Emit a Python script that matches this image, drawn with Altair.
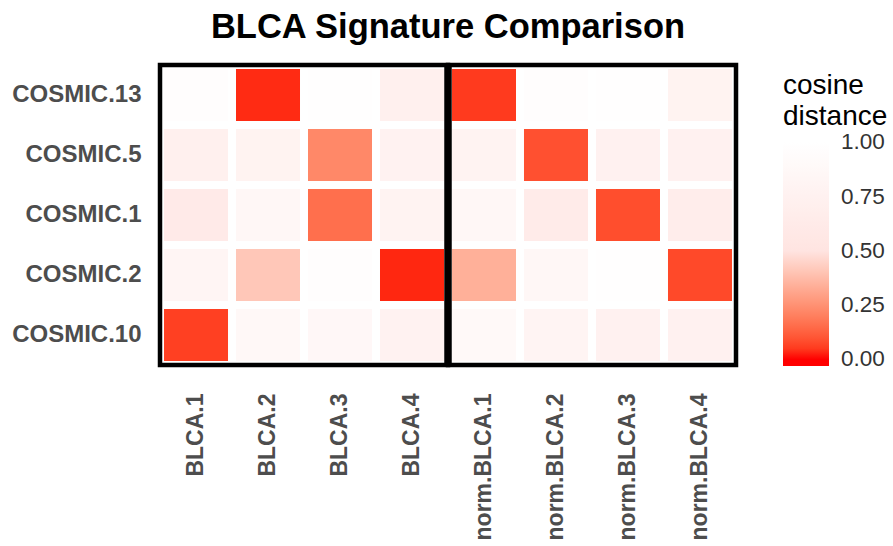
import altair as alt
import pandas as pd

# Samples (columns) and reference signatures (rows, top to bottom)
samples = ["BLCA.1", "BLCA.2", "BLCA.3", "BLCA.4",
           "norm.BLCA.1", "norm.BLCA.2", "norm.BLCA.3", "norm.BLCA.4"]
signatures = ["COSMIC.13", "COSMIC.5", "COSMIC.1", "COSMIC.2", "COSMIC.10"]

# Cosine distance of each signature to each sample, in sample order
dist_cosmic13 = [0.96, 0.03, 0.98, 0.72, 0.05, 0.96, 0.98, 0.77]
dist_cosmic5 = [0.72, 0.77, 0.225, 0.76, 0.78, 0.09, 0.75, 0.75]
dist_cosmic1 = [0.62, 0.85, 0.16, 0.78, 0.85, 0.63, 0.085, 0.66]
dist_cosmic2 = [0.82, 0.41, 0.96, 0.025, 0.34, 0.85, 0.98, 0.075]
dist_cosmic10 = [0.06, 0.87, 0.86, 0.76, 0.88, 0.80, 0.75, 0.75]

# Sample groups outlined with a box
groups = ["BLCA", "norm.BLCA"]

legend_ticks = [0, 0.25, 0.5, 0.75, 1]

rows = {
    "COSMIC.13": dist_cosmic13,
    "COSMIC.5": dist_cosmic5,
    "COSMIC.1": dist_cosmic1,
    "COSMIC.2": dist_cosmic2,
    "COSMIC.10": dist_cosmic10,
}
records = []
for sig in signatures:
    for s, v in zip(samples, rows[sig]):
        records.append({"signature": sig, "sample": s, "distance": v})
df = pd.DataFrame(records)

# Group spans in column units (1-based, edges at half steps)
box_records = []
for g in groups:
    idx = [i for i, s in enumerate(samples) if s.rsplit(".", 1)[0] == g]
    box_records.append({"group": g, "x0": min(idx) + 0.5, "x1": max(idx) + 1.5,
                        "y0": 0.5, "y1": len(signatures) + 0.5})
boxes_df = pd.DataFrame(box_records)
divider_df = pd.DataFrame({"x": [r["x1"] for r in box_records[:-1]],
                           "y0": [0.5] * (len(box_records) - 1),
                           "y1": [len(signatures) + 0.5] * (len(box_records) - 1)})

FONT = "Liberation Sans"

# Red -> misty rose -> white; the colour bar runs a little past 0 and 1
color_scale = alt.Scale(domain=[-0.03, 0, 0.5, 1, 1.01],
                        range=["#FF0000", "#FF0000", "#FFE4E1", "#FFFFFF", "#FFFFFF"],
                        interpolate="lab")

heat = alt.Chart(df).mark_rect().encode(
    x=alt.X("sample:N", sort=samples, title=None,
            scale=alt.Scale(paddingInner=0.111, paddingOuter=0.0556),
            axis=alt.Axis(labelAngle=-90, labelFontSize=23, labelFontWeight="bold",
                          labelColor="#4D4D4D", labelFont=FONT, ticks=False,
                          domain=False, labelPadding=28, labelLimit=300)),
    y=alt.Y("signature:N", sort=signatures, title=None,
            scale=alt.Scale(paddingInner=0.133, paddingOuter=0.0667),
            axis=alt.Axis(labelFontSize=24, labelFontWeight="bold",
                          labelColor="#4D4D4D", labelFont=FONT, ticks=False,
                          domain=False, labelPadding=19, labelLimit=300)),
    color=alt.Color("distance:Q", scale=color_scale,
                    legend=alt.Legend(title=["cosine", "distance"], values=legend_ticks,
                                      format=".2f", orient="right", offset=40, padding=7,
                                      gradientLength=226, gradientThickness=46,
                                      gradientStrokeWidth=0,
                                      titleFont=FONT, titleFontSize=28,
                                      titleFontWeight="normal", titleColor="#000000",
                                      titleLineHeight=31, titlePadding=9,
                                      labelFont=FONT, labelFontSize=22.5,
                                      labelColor="#333333", labelOffset=12,
                                      labelBaseline="middle", labelOverlap=False)),
)

boxes = alt.Chart(boxes_df).mark_rect(filled=False, stroke="black", strokeWidth=4.5).encode(
    x=alt.X("x0:Q", scale=alt.Scale(domain=[0.5, len(samples) + 0.5], nice=False, zero=False), axis=None),
    x2="x1:Q",
    y=alt.Y("y0:Q", scale=alt.Scale(domain=[0.5, len(signatures) + 0.5], nice=False, zero=False), axis=None),
    y2="y1:Q",
)

divider = alt.Chart(divider_df).mark_rule(color="black", strokeWidth=7.5).encode(
    x=alt.X("x:Q", scale=alt.Scale(domain=[0.5, len(samples) + 0.5], nice=False, zero=False), axis=None),
    y=alt.Y("y0:Q", scale=alt.Scale(domain=[0.5, len(signatures) + 0.5], nice=False, zero=False), axis=None),
    y2="y1:Q",
)

chart = alt.layer(heat, boxes, divider).resolve_scale(
    x="independent", y="independent", color="independent"
).properties(
    width=576, height=300,
    autosize=alt.AutoSizeParams(type="none"),
    padding={"left": 160, "top": 65, "right": 157, "bottom": 181},
    title=alt.TitleParams("BLCA Signature Comparison", font=FONT, fontSize=34.5,
                          fontWeight="bold", color="#000000", anchor="middle",
                          baseline="alphabetic", offset=25, dy=36),
    background="white",
).configure_view(strokeWidth=0)

chart.save("out.html", embed_options={"renderer": "svg", "actions": False})
